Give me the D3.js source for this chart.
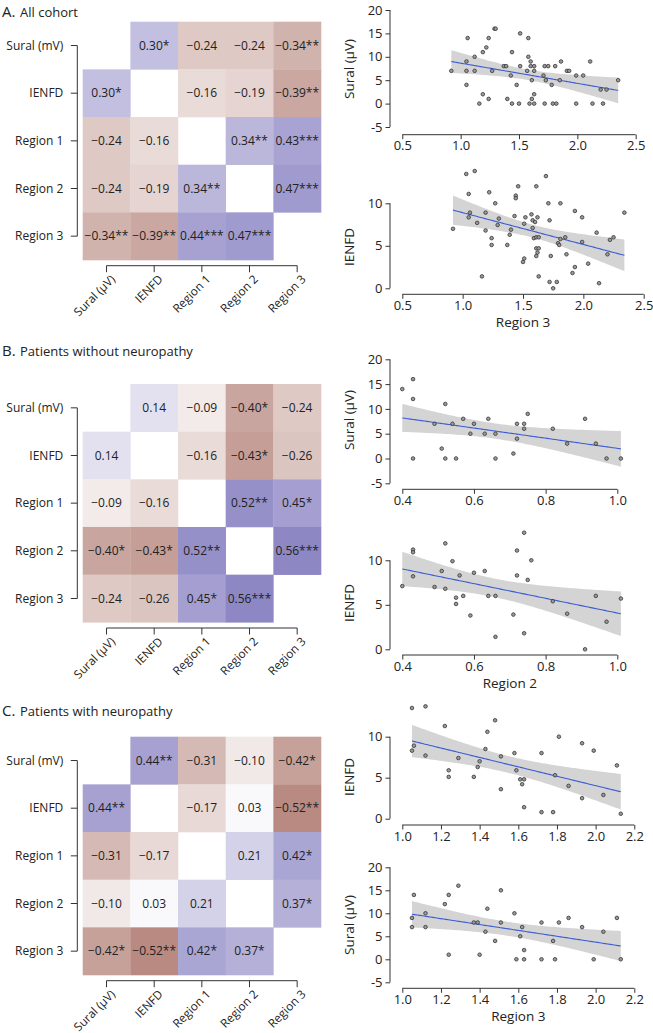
<!DOCTYPE html>
<html><head><meta charset="utf-8">
<script src="https://cdnjs.cloudflare.com/ajax/libs/d3/7.8.5/d3.min.js"></script>
<style>
body{margin:0;background:#fff;}
svg text{font-family:"Open Sans",sans-serif;fill:#222;}
</style>
</head><body><svg id="c" width="653" height="1033"></svg>
<script>
// ---------- DATA ----------
const rowLabels = ["Sural (mV)","IENFD","Region 1","Region 2","Region 3"];
const colLabels = ["Sural (μV)","IENFD","Region 1","Region 2","Region 3"];

const corrA = [
  [null,"0.30*","−0.24","−0.24","−0.34**"],
  ["0.30*",null,"−0.16","−0.19","−0.39**"],
  ["−0.24","−0.16",null,"0.34**","0.43***"],
  ["−0.24","−0.19","0.34**",null,"0.47***"],
  ["−0.34**","−0.39**","0.44***","0.47***",null]
];
const corrB = [
  [null,"0.14","−0.09","−0.40*","−0.24"],
  ["0.14",null,"−0.16","−0.43*","−0.26"],
  ["−0.09","−0.16",null,"0.52**","0.45*"],
  ["−0.40*","−0.43*","0.52**",null,"0.56***"],
  ["−0.24","−0.26","0.45*","0.56***",null]
];
const corrC = [
  [null,"0.44**","−0.31","−0.10","−0.42*"],
  ["0.44**",null,"−0.17","0.03","−0.52**"],
  ["−0.31","−0.17",null,"0.21","0.42*"],
  ["−0.10","0.03","0.21",null,"0.37*"],
  ["−0.42*","−0.52**","0.42*","0.37*",null]
];

// A1: Region 3 vs Sural (all cohort)
const a1Region3 = [0.92,1.05,1.05,1.06,1.05,1.12,1.12,1.16,1.19,1.19,1.22,1.24,1.24,1.27,1.29,1.30,1.37,1.39,1.40,1.43,1.44,1.44,1.48,1.50,1.51,1.51,1.57,1.58,1.58,1.59,1.60,1.60,1.61,1.61,1.63,1.63,1.63,1.63,1.71,1.72,1.72,1.73,1.75,1.78,1.79,1.82,1.81,1.85,1.86,1.91,1.93,1.99,1.99,2.05,2.11,2.13,2.20,2.22,2.25,2.35];
const a1Sural = [7,9,7,14,4,10,7,0,2,11,12,14,1,7,16,16,8,8,1,6,11,0,4,0,15,8,7,14,10,0,9,8,5,1,7,8,2,0,6,8,0,5,8,4,0,0,8,5,9,7,7,6,0,6,9,0,3,0,3,5];
// A2: Region 3 vs IENFD (all cohort)
const a2Region3 = [0.92,1.03,1.10,1.05,1.06,1.05,1.12,1.19,1.19,1.22,1.24,1.24,1.27,1.29,1.30,1.37,1.39,1.40,1.43,1.44,1.44,1.46,1.50,1.51,1.51,1.52,1.57,1.58,1.58,1.59,1.60,1.61,1.61,1.61,1.61,1.62,1.62,1.63,1.63,1.63,1.69,1.71,1.72,1.72,1.73,1.75,1.78,1.79,1.80,1.81,1.81,1.85,1.86,1.91,1.93,1.93,1.99,1.99,2.04,2.11,2.13,2.20,2.22,2.25,2.34,1.16];
const a2IENFD = [7.0,13.45,13.8,11.1,8.9,8.35,7.7,8.9,6.8,11.3,5.9,5.1,10.0,7.45,8.2,5.1,6.3,6.9,8.5,10.9,10.6,12.0,3.1,3.5,7.6,8.35,8.7,8.0,7.1,5.9,7.8,6.0,12.0,3.8,4.7,8.35,4.2,4.7,6.0,1.4,13.2,10.0,8.0,0.75,3.8,0.0,0.75,5.3,5.1,10.0,5.8,6.0,4.0,1.8,2.5,9.1,8.35,5.45,2.9,6.55,0.6,4.0,5.7,6.0,8.9,1.4];
// B1: Region 2 vs Sural (without neuropathy)
const b1Region2 = [0.40,0.43,0.43,0.43,0.49,0.51,0.52,0.52,0.54,0.55,0.57,0.59,0.60,0.63,0.64,0.66,0.66,0.71,0.72,0.72,0.74,0.74,0.75,0.82,0.86,0.91,0.94,0.97,1.01];
const b1Sural = [14,16,12,0,7,2,11,0,7,0,8,5,7,5,8,5,0,1,7,4,7,6,9,6,3,8,3,0,0];
// B2: Region 2 vs IENFD (without neuropathy)
const b2Region2 = [0.40,0.43,0.43,0.43,0.49,0.51,0.52,0.52,0.54,0.55,0.55,0.56,0.57,0.59,0.60,0.63,0.64,0.66,0.66,0.71,0.72,0.72,0.74,0.74,0.75,0.76,0.82,0.86,0.91,0.94,0.97,1.01];
const b2IENFD = [7.1,11.2,10.9,8.2,7.0,8.8,11.9,6.8,9.9,5.8,5.1,8.3,6.0,3.8,8.6,8.8,6.0,6.0,1.4,3.9,11.1,8.3,13.1,1.8,7.8,10.0,5.4,4.0,0.0,6.0,3.1,5.7];
// C1: Region 3 vs IENFD (with neuropathy)
const c1Region3 = [1.05,1.12,1.05,1.06,1.12,1.22,1.24,1.24,1.29,1.37,1.39,1.40,1.43,1.44,1.48,1.51,1.51,1.58,1.59,1.61,1.63,1.62,1.63,1.72,1.72,1.78,1.79,1.81,1.86,1.93,1.93,1.99,2.04,2.11,2.13];
const c1IENFD = [13.5,13.7,8.3,8.9,7.7,11.3,5.9,5.1,7.4,5.1,6.3,7.0,8.5,10.6,12.0,7.6,3.6,8.0,5.9,4.8,4.8,4.2,1.4,8.0,0.8,0.8,5.3,10.0,4.0,9.2,2.5,8.3,2.9,6.5,0.6];
// C2: Region 3 vs Sural (with neuropathy)
const c2Region3 = [1.05,1.05,1.06,1.12,1.12,1.22,1.24,1.24,1.29,1.37,1.39,1.40,1.43,1.44,1.48,1.51,1.51,1.58,1.59,1.61,1.62,1.63,1.63,1.72,1.72,1.78,1.79,1.81,1.86,1.93,1.99,2.04,2.11,2.13];
const c2Sural = [7,9,14,10,7,12,14,1,16,8,8,1,6,11,4,15,8,10,0,5,7,2,0,8,0,4,0,8,9,7,0,6,9,0];

const ticksX_A = [0.5,1.0,1.5,2.0,2.5];
const ticksX_B = [0.4,0.6,0.8,1.0];
const ticksX_C = [1.0,1.2,1.4,1.6,1.8,2.0,2.2];
const ticksSural = [-5,0,5,10,15,20];
const ticksIENFD = [0,5,10];

// ---------- DRAW ----------
const svg = d3.select("#c");
const posCol = d3.interpolateRgb("#ffffff","rgb(52,42,150)");
const negCol = d3.interpolateRgb("#ffffff","rgb(118,30,14)");
function cellColor(v){ return v>=0 ? posCol(v) : negCol(-v); }
function parseR(s){ return parseFloat(s.replace("−","-")); }

function heatmap(top, letter, subtitle, titleBase, data){
  const g = svg.append("g");
  g.append("text").attr("x",2).attr("y",titleBase).style("font-size","15px").text(letter);
  g.append("text").attr("x",20).attr("y",titleBase).style("font-size","13px").text(subtitle);
  const x = d3.scaleBand().domain(colLabels).range([82.7,321]);
  const y = d3.scaleBand().domain(rowLabels).range([top, top+238.3]);
  const cells = [];
  data.forEach((row,i)=>row.forEach((s,j)=>{ if(s!==null) cells.push({r:rowLabels[i],c:colLabels[j],s,v:parseR(s)}); }));
  g.selectAll("rect.cell").data(cells).join("rect")
    .attr("x",d=>x(d.c)).attr("y",d=>y(d.r))
    .attr("width",x.bandwidth()+0.3).attr("height",y.bandwidth()+0.3)
    .attr("fill",d=>cellColor(d.v));
  g.selectAll("text.val").data(cells).join("text")
    .attr("x",d=>x(d.c)+x.bandwidth()/2).attr("y",d=>y(d.r)+y.bandwidth()/2)
    .attr("text-anchor","middle").attr("dy","0.35em").style("font-size","12px")
    .text(d=>d.s);
  // y axis
  const ax = 77.3;
  const yc = d=>y(d)+y.bandwidth()/2;
  g.append("line").attr("x1",ax).attr("x2",ax).attr("y1",yc(rowLabels[0])).attr("y2",yc(rowLabels[4])).attr("stroke","#333");
  rowLabels.forEach(r=>{
    g.append("line").attr("x1",ax-6.5).attr("x2",ax).attr("y1",yc(r)).attr("y2",yc(r)).attr("stroke","#333");
    g.append("text").attr("x",ax-14).attr("y",yc(r)).attr("dy","0.35em").attr("text-anchor","end").style("font-size","12px").text(r);
  });
  // x axis
  const ay = top+238.3+5.7;
  const xc = d=>x(d)+x.bandwidth()/2;
  g.append("line").attr("y1",ay).attr("y2",ay).attr("x1",xc(colLabels[0])).attr("x2",xc(colLabels[4])).attr("stroke","#333");
  colLabels.forEach(c=>{
    g.append("line").attr("y1",ay).attr("y2",ay+6.5).attr("x1",xc(c)).attr("x2",xc(c)).attr("stroke","#333");
    g.append("text").attr("transform",`translate(${xc(c)+3.5},${ay+8.5}) rotate(-45)`)
      .attr("text-anchor","end").attr("dy","0.7em").style("font-size","11.8px").text(c);
  });
}

heatmap(21.7,"A.","All cohort",16.5,corrA);
heatmap(384,"B.","Patients without neuropathy",356,corrB);
heatmap(736.7,"C.","Patients with neuropathy",715.5,corrC);

function tq(df){ const z=1.959964; return z+(z**3+z)/(4*df)+(5*z**5+16*z**3+3*z)/(96*df*df)+(3*z**7+19*z**5+17*z**3-15*z)/(384*df**3); }

function scatter(o){
  const g = svg.append("g");
  const x = d3.scaleLinear().domain(o.xd).range(o.xr);
  const y = d3.scaleLinear().domain(o.yd).range(o.yr);
  const pts = o.xs.map((v,i)=>({x:v,y:o.ys[i]}));
  // regression (lm with 95% CI)
  const n=pts.length, mx=d3.mean(pts,d=>d.x), my=d3.mean(pts,d=>d.y);
  const sxx=d3.sum(pts,d=>(d.x-mx)**2), sxy=d3.sum(pts,d=>(d.x-mx)*(d.y-my));
  const b=sxy/sxx, a=my-b*mx;
  const sse=d3.sum(pts,d=>(d.y-a-b*d.x)**2), s=Math.sqrt(sse/(n-2)), t=tq(n-2);
  const [x0,x1]=d3.extent(pts,d=>d.x);
  const grid=d3.range(0,81).map(k=>x0+(x1-x0)*k/80).map(xv=>{
    const f=a+b*xv, se=s*Math.sqrt(1/n+(xv-mx)**2/sxx);
    return {x:xv,f,lo:f-t*se,hi:f+t*se};
  });
  g.append("path").datum(grid).attr("fill","#d4d4d4")
    .attr("d",d3.area().x(d=>x(d.x)).y0(d=>y(d.lo)).y1(d=>y(d.hi)));
  g.append("path").datum(grid).attr("fill","none").attr("stroke","#3b5bd6").attr("stroke-width",1.1)
    .attr("d",d3.line().x(d=>x(d.x)).y(d=>y(d.f)));
  g.selectAll("circle").data(pts).join("circle")
    .attr("cx",d=>x(d.x)).attr("cy",d=>y(d.y)).attr("r",1.8)
    .attr("fill","#9a9a9a").attr("stroke","#333").attr("stroke-width",0.8);
  // x axis (detached, base-R style)
  const axy=o.axisY;
  const gx=g.append("g").attr("transform",`translate(0,${axy})`)
    .call(d3.axisBottom(x).tickValues(o.xt).tickFormat(d3.format(".1f")).tickSizeOuter(0).tickSize(4.5).tickPadding(2));
  gx.select(".domain").attr("d",`M${x(o.xt[0])},0H${x(o.xt[o.xt.length-1])}`);
  // y axis
  const gy=g.append("g").attr("transform",`translate(390,0)`)
    .call(d3.axisLeft(y).tickValues(o.yt).tickFormat(d=>String(d)).tickSizeOuter(0).tickSize(4.5).tickPadding(3));
  gy.select(".domain").attr("d",`M0,${y(o.yt[0])}V${y(o.yt[o.yt.length-1])}`);
  [gx,gy].forEach(ax=>{
    ax.selectAll("text").style("font-size","13px").style("font-family","'Open Sans',sans-serif").attr("fill","#222");
    ax.selectAll("line,path").attr("stroke","#333");
  });
  g.append("text").attr("transform",`translate(349,${o.ylY}) rotate(-90)`).attr("text-anchor","middle")
    .attr("dy","0.35em").style("font-size","13.5px").text(o.yl);
  if(o.xl){
    g.append("text").attr("x",(o.xr[0]+o.xr[1])/2).attr("y",axy+28).attr("dy","0.35em")
      .attr("text-anchor","middle").style("font-size","13.5px").text(o.xl);
  }
}

scatter({xs:a1Region3,ys:a1Sural,xd:[0.5,2.5],xr:[402.3,635.7],yd:[-5,20],yr:[127,10],axisY:134.7,xt:ticksX_A,yt:ticksSural,yl:"Sural (μV)",ylY:69});
scatter({xs:a2Region3,ys:a2IENFD,xd:[0.5,2.5],xr:[402.3,643.7],yd:[0,10],yr:[288.3,203.3],axisY:294.3,xt:ticksX_A,yt:ticksIENFD,yl:"IENFD",xl:"Region 3",ylY:247});
scatter({xs:b1Region2,ys:b1Sural,xd:[0.4,1.0],xr:[402.3,617.3],yd:[-5,20],yr:[483.3,359.3],axisY:489.3,xt:ticksX_B,yt:ticksSural,yl:"Sural (μV)",ylY:420});
scatter({xs:b2Region2,ys:b2IENFD,xd:[0.4,1.0],xr:[402.3,617.3],yd:[0,10],yr:[649.3,560.3],axisY:655,xt:ticksX_B,yt:ticksIENFD,yl:"IENFD",xl:"Region 2",ylY:603});
scatter({xs:c1Region3,ys:c1IENFD,xd:[1.0,2.2],xr:[402.3,634.3],yd:[0,10],yr:[818.7,736.7],axisY:825,xt:ticksX_C,yt:ticksIENFD,yl:"IENFD",ylY:777});
scatter({xs:c2Region3,ys:c2Sural,xd:[1.0,2.2],xr:[402.3,634.3],yd:[-5,20],yr:[982.3,867.3],axisY:988.3,xt:ticksX_C,yt:ticksSural,yl:"Sural (μV)",xl:"Region 3",ylY:925});
</script>
</body></html>
